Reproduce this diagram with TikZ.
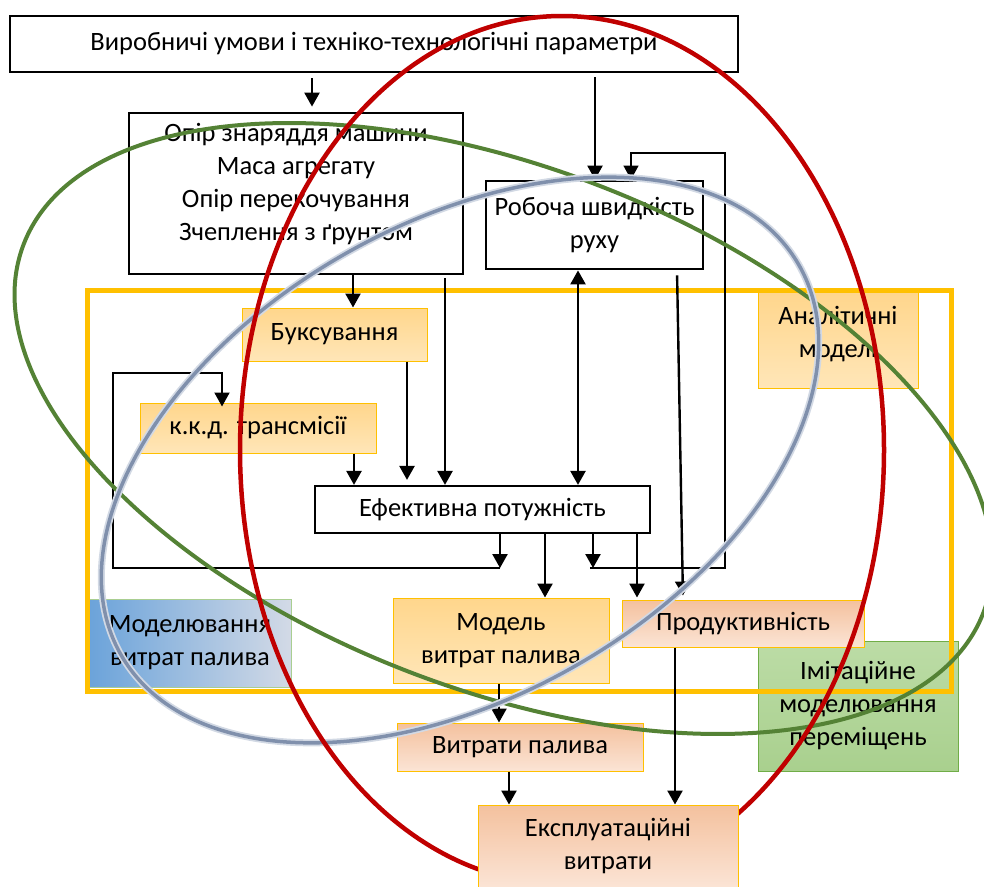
\documentclass[tikz,border=0pt]{standalone}
\usepackage{fontspec}
\setmainfont{Carlito}
\usetikzlibrary{arrows.meta}

\definecolor{ringred}{HTML}{C00000}
\definecolor{ringgreen}{HTML}{548235}
\definecolor{ringblue}{HTML}{8090AC}
\definecolor{ringhalo}{HTML}{D2D9E4}
\definecolor{frameyellow}{HTML}{FFC000}
\definecolor{paleorange}{HTML}{FFD68C}
\definecolor{paleorangelow}{HTML}{FFE6B8}
\definecolor{salmon}{HTML}{F4C19E}
\definecolor{salmonlow}{HTML}{FBE4D5}
\definecolor{leafgreen}{HTML}{70AD47}
\definecolor{softgreen}{HTML}{BCDCA6}
\definecolor{softgreenlow}{HTML}{A9D08E}
\definecolor{softgreenmid}{HTML}{C8E2B6}
\definecolor{skyblue}{HTML}{6BA3DA}
\definecolor{paleblue}{HTML}{DCE6F3}
\definecolor{greyblue}{HTML}{D3DAE6}

\begin{document}
\begin{tikzpicture}[x=1pt, y=-1pt]

        % Setup the styles for the boxes, frames and arrows
        \tikzset{plain box/.style={draw, rectangle, inner sep=0pt,
                                   line width=2.8pt, align=center,
                                   font=\fontsize{26.5}{33}\selectfont},
                 orange box/.style={plain box, draw=frameyellow, line width=1pt,
                                    top color=paleorange, middle color=paleorange,
                                    bottom color=paleorangelow},
                 salmon box/.style={orange box, top color=salmon,
                                    middle color=salmon, bottom color=salmonlow},
                 green box/.style={plain box, draw=leafgreen, line width=1pt,
                                   top color=softgreen, middle color=softgreenmid,
                                   bottom color=softgreenlow},
                 blue box/.style={plain box, draw=leafgreen!60, line width=1pt,
                                  left color=skyblue, middle color=paleblue,
                                  right color=greyblue},
                 arrow line/.style={line width=2.4pt,
                                    -{Triangle[width=15pt,length=14pt]}},
                 loop line/.style={arrow line, line width=2pt},
                 thin loop/.style={arrow line, line width=1.2pt}
                 }

        \useasboundingbox (0,0) rectangle (984,886);

        % Draw the boxes
        \node[green box, minimum width=200pt, minimum height=130pt] at (858, 706) (imit)
            {Імітаційне\\моделювання\\переміщень};
        \node[plain box, minimum width=728pt, minimum height=56pt] at (374, 44) (top)
            {Виробничі умови і техніко-технологічні параметри};
        \node[plain box, minimum width=334pt, minimum height=161pt,
              label={[align=center, yshift=9.5pt, font=\fontsize{26.5}{33}\selectfont]center:Опір знаряддя машини\\Маса агрегату\\Опір перекочування\\Зчеплення з ґрунтом}]
              at (296, 193.5) (opir) {};
        \node[plain box, minimum width=217pt, minimum height=88pt] at (594.5, 225) (robocha)
            {Робоча швидкість\\руху};
        \node[orange box, minimum width=185pt, minimum height=53pt] at (334.5, 334.5) (buks)
            {Буксування};
        \node[orange box, minimum width=236pt, minimum height=50pt] at (258, 428) (kkd)
            {к.к.д. трансмісії};
        \node[plain box, line width=2.2pt, minimum width=335pt, minimum height=47pt] at (482.5, 509.5) (efekt)
            {Ефективна потужність};
        \node[orange box, minimum width=160pt, minimum height=96pt,
              label={[align=center, yshift=6pt, font=\fontsize{26.5}{33}\selectfont]center:Аналітичні\\моделі}]
              at (838, 340) (analit) {};
        \node[orange box, minimum width=216pt, minimum height=85pt] at (501, 640.5) (model)
            {Модель\\витрат палива};
        \node[salmon box, minimum width=242pt, minimum height=47pt] at (743, 623.5) (prod)
            {Продуктивність};
        \node[blue box, minimum width=202pt, minimum height=88pt] at (190, 643) (modvyt)
            {Моделювання\\витрат палива};
        \node[salmon box, minimum width=246pt, minimum height=48pt] at (520, 747) (vytr)
            {Витрати палива};

        % Draw the frame of the models
        \draw[frameyellow, line width=5pt] (87, 290) rectangle (951, 691);

        % Connect the boxes with arrows
        \draw[arrow line, shorten <=5pt, shorten >=5pt] ([xshift=-62pt]top.south) -- ([xshift=16pt]opir.north);
        \draw[arrow line, shorten <=4pt] ([xshift=221pt]top.south) -- ([xshift=0.5pt]robocha.north);
        \draw[arrow line] ([xshift=57pt]opir.south) -- ([xshift=18.5pt]buks.north);
        \draw[arrow line, shorten <=3pt] ([xshift=149pt]opir.south) -- ([xshift=-37.5pt]efekt.north);
        \draw[arrow line, shorten >=5pt] ([xshift=72.5pt]buks.south) -- ([xshift=-75.5pt]efekt.north);
        \draw[arrow line] ([xshift=96pt]kkd.south) -- ([xshift=-128.5pt]efekt.north);
        \draw[arrow line, {Triangle[width=15pt,length=14pt]}-{Triangle[width=15pt,length=14pt]}]
            ([xshift=-16.5pt]robocha.south) -- ([xshift=95.5pt]efekt.north);
        \draw[arrow line, shorten <=5pt, shorten >=4pt] ([xshift=82.5pt]robocha.south) -- ([xshift=-60pt]prod.north);
        \draw[arrow line] ([xshift=62.5pt]efekt.south) -- ([xshift=44pt]model.north);
        \draw[arrow line, shorten >=2pt] ([xshift=154.5pt]efekt.south) -- ([xshift=-106pt]prod.north);
        \draw[arrow line] ([xshift=-2pt]model.south) -- ([xshift=-21pt]vytr.north);

        % Feedback loops
        \coordinate (left turn) at (500, 568);
        \coordinate (left corner) at (113, 373);
        \coordinate (right turn) at (593, 568);
        \coordinate (right corner) at (725, 153);
        \draw[arrow line] ([xshift=17.5pt]efekt.south) -- (left turn);
        \draw[loop line] (left turn) -| (left corner) -| ([xshift=-36pt, yshift=-4pt]kkd.north);
        \draw[arrow line, shorten <=-2pt] ([xshift=110.5pt]efekt.south) -- (right turn);
        \draw[thin loop] ([xshift=-3pt]right turn) -| (right corner) -| ([xshift=36.5pt]robocha.north);

        % Draw the rings
        \draw[ringgreen, line width=4pt, shift={(503.5, 428.5)}, rotate=-21]
            (0, 0) ellipse [x radius=514, y radius=261];
        \draw[ringhalo, line width=7pt, shift={(460, 460)}, rotate=30]
            (0, 0) ellipse [x radius=391, y radius=236];
        \draw[ringblue, line width=3.5pt, shift={(460, 460)}, rotate=30]
            (0, 0) ellipse [x radius=391, y radius=236];
        \draw[ringred, line width=4.5pt] (562, 450) ellipse [x radius=322, y radius=434];

        % The last box lies over the red ring
        \node[salmon box, minimum width=260pt, minimum height=82pt] at (608, 846) (ekspl)
            {Експлуатаційні\\витрати};
        \draw[arrow line] ([xshift=-11pt]vytr.south) -- ([xshift=-99pt]ekspl.north);
        \draw[arrow line] ([xshift=-68pt]prod.south) -- ([xshift=67pt]ekspl.north);
      \end{tikzpicture}
\end{document}
